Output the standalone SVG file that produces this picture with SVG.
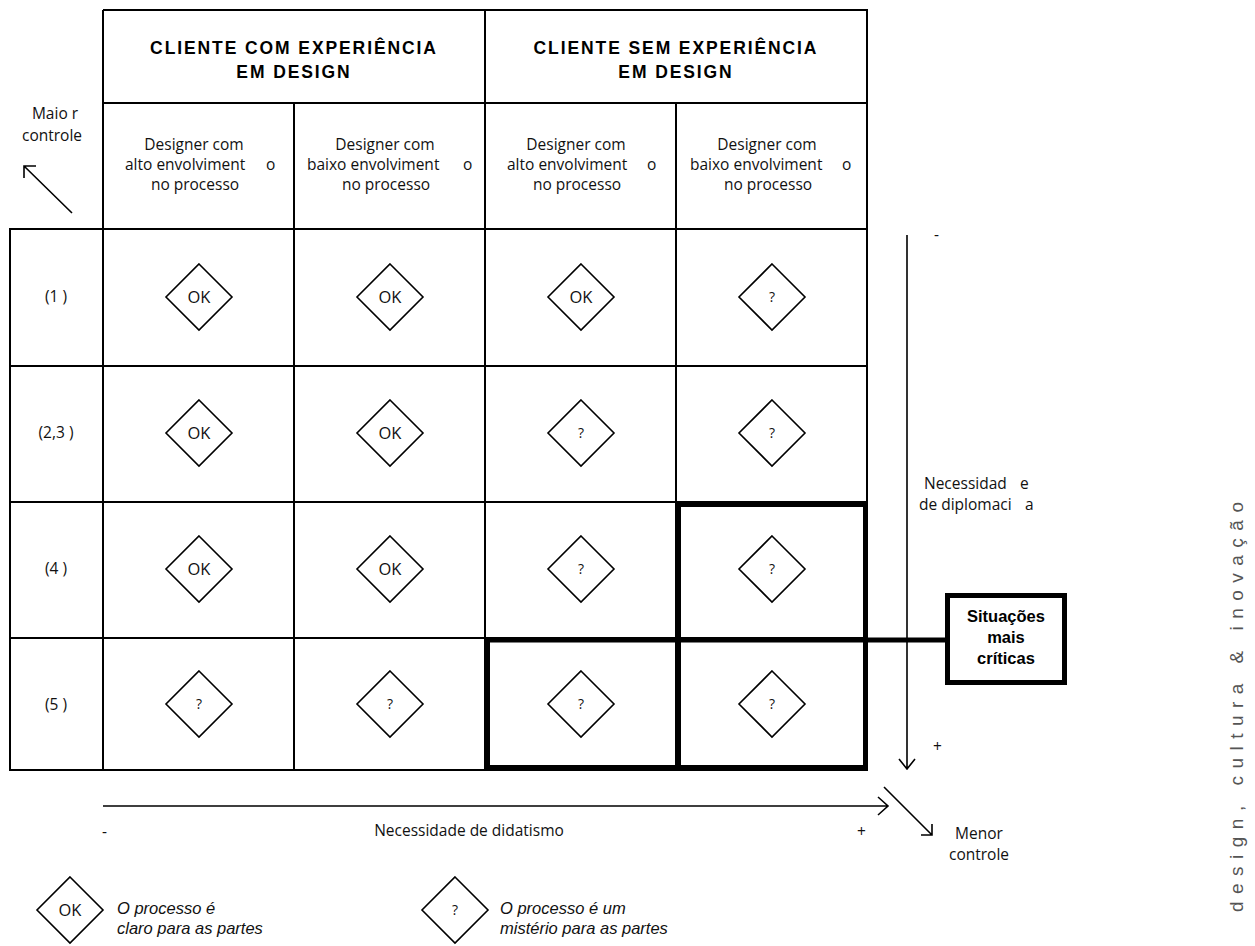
<svg xmlns="http://www.w3.org/2000/svg" width="1255" height="946" viewBox="0 0 1255 946">
<style>
.bg{fill:#fff}
.grid{fill:none;stroke:#000;stroke-width:2}
.thick{fill:none;stroke:#000;stroke-width:5}
.dia{fill:#fff;stroke:#000;stroke-width:1.6}
.hdr{font-family:"Liberation Sans",Arial,sans-serif;font-weight:bold;font-size:17.5px;letter-spacing:1.9px;text-anchor:middle;fill:#000}
.t{font-family:"Open Sans","Noto Sans",sans-serif;font-size:15.5px;fill:#111}
.c{text-anchor:middle}
.ok{font-family:"Open Sans","Noto Sans",sans-serif;font-size:16.5px;text-anchor:middle;fill:#111}
.q{font-family:"Open Sans","Noto Sans",sans-serif;font-size:14px;text-anchor:middle;fill:#111}
.bold{font-family:"Liberation Sans",Arial,sans-serif;font-weight:bold;font-size:16.5px;text-anchor:middle;fill:#000}
.it{font-family:"Liberation Sans",Arial,sans-serif;font-style:italic;font-size:16.5px;fill:#111}
.arr{fill:none;stroke:#000;stroke-width:1.6}
.vert{font-family:"Liberation Sans",Arial,sans-serif;font-size:19px;fill:#555}
</style>
<defs>
<polygon id="d" points="0,-33 33,0 0,33 -33,0"/>
</defs>
<rect class="bg" x="0" y="0" width="1255" height="946"/>

<g id="table-grid">
<path class="grid" d="M103,10 H867 V770 H10 V229 H867 M103,10 V770 M103,103 H867 M485,10 V770 M294,103 V770 M676,103 V770 M10,366 H867 M10,502 H867 M10,638 H867"/>
</g>

<g id="header-com">
<text class="hdr" x="294" y="54">CLIENTE COM EXPERIÊNCIA</text>
<text class="hdr" x="294" y="78">EM DESIGN</text>
</g>
<g id="header-sem">
<text class="hdr" x="676" y="54">CLIENTE SEM EXPERIÊNCIA</text>
<text class="hdr" x="676" y="78">EM DESIGN</text>
</g>

<g id="sub-1">
<text class="t c" x="194" y="150">Designer com</text>
<text class="t" x="125" y="170">alto envolviment<tspan x="262"> o</tspan></text>
<text class="t c" x="195" y="190">no processo</text>
</g>
<g id="sub-2">
<text class="t c" x="385" y="150">Designer com</text>
<text class="t" x="307" y="170">baixo envolviment<tspan x="459"> o</tspan></text>
<text class="t c" x="386" y="190">no processo</text>
</g>
<g id="sub-3">
<text class="t c" x="576" y="150">Designer com</text>
<text class="t" x="507" y="170">alto envolviment<tspan x="643"> o</tspan></text>
<text class="t c" x="577" y="190">no processo</text>
</g>
<g id="sub-4">
<text class="t c" x="767" y="150">Designer com</text>
<text class="t" x="690" y="170">baixo envolviment<tspan x="838"> o</tspan></text>
<text class="t c" x="768" y="190">no processo</text>
</g>

<g id="row-labels">
<text class="t c" x="56" y="302">(1 )</text>
<text class="t c" x="56" y="438">(2,3 )</text>
<text class="t c" x="56" y="574">(4 )</text>
<text class="t c" x="56" y="710">(5 )</text>
</g>

<g id="cells">
<g id="r1c1"><use href="#d" class="dia" x="199" y="297"/><text class="ok" x="199" y="303">OK</text></g>
<g id="r1c2"><use href="#d" class="dia" x="390" y="297"/><text class="ok" x="390" y="303">OK</text></g>
<g id="r1c3"><use href="#d" class="dia" x="581" y="297"/><text class="ok" x="581" y="303">OK</text></g>
<g id="r1c4"><use href="#d" class="dia" x="772" y="297"/><text class="q" x="772" y="302">?</text></g>
<g id="r2c1"><use href="#d" class="dia" x="199" y="433"/><text class="ok" x="199" y="439">OK</text></g>
<g id="r2c2"><use href="#d" class="dia" x="390" y="433"/><text class="ok" x="390" y="439">OK</text></g>
<g id="r2c3"><use href="#d" class="dia" x="581" y="433"/><text class="q" x="581" y="438">?</text></g>
<g id="r2c4"><use href="#d" class="dia" x="772" y="433"/><text class="q" x="772" y="438">?</text></g>
<g id="r3c1"><use href="#d" class="dia" x="199" y="569"/><text class="ok" x="199" y="575">OK</text></g>
<g id="r3c2"><use href="#d" class="dia" x="390" y="569"/><text class="ok" x="390" y="575">OK</text></g>
<g id="r3c3"><use href="#d" class="dia" x="581" y="569"/><text class="q" x="581" y="574">?</text></g>
<g id="r3c4"><use href="#d" class="dia" x="772" y="569"/><text class="q" x="772" y="574">?</text></g>
<g id="r4c1"><use href="#d" class="dia" x="199" y="704"/><text class="q" x="199" y="709">?</text></g>
<g id="r4c2"><use href="#d" class="dia" x="390" y="704"/><text class="q" x="390" y="709">?</text></g>
<g id="r4c3"><use href="#d" class="dia" x="581" y="704"/><text class="q" x="581" y="709">?</text></g>
<g id="r4c4"><use href="#d" class="dia" x="772" y="704"/><text class="q" x="772" y="709">?</text></g>
</g>

<g id="critical-outline">
<rect class="thick" x="678.5" y="504.5" width="187" height="135"/>
<path class="thick" d="M487.5,640 H865.5 V767.5 H487.5 Z M678.5,640 V767.5"/>
</g>

<g id="situacoes">
<rect class="thick" x="947.5" y="595.5" width="117" height="87"/>
<text class="bold" x="1006" y="622">Situações</text>
<text class="bold" x="1006" y="643">mais</text>
<text class="bold" x="1006" y="664">críticas</text>
</g>

<g id="connectors">
<path class="thick" d="M865,640 H947"/>
<path class="arr" d="M907,235 V769 M899,759 L907,769 L915,759"/>
<path class="arr" d="M103,806 H888 M878,797 L888,806 L878,815"/>
<path class="arr" d="M72,213 L24,166 M36,166 H24 V178"/>
<path class="arr" d="M884,787 L932,835 M921,835 H932 V824"/>
</g>

<g id="axis-labels">
<text class="t c" x="55" y="119">Maio r</text>
<text class="t c" x="52" y="141">controle</text>
<text class="t" x="934" y="240">-</text>
<text class="t" x="933" y="752">+</text>
<text class="t" x="924" y="489">Necessidad<tspan x="1016"> e</tspan></text>
<text class="t" x="919" y="510">de diplomaci<tspan x="1021"> a</tspan></text>
<text class="t" x="102" y="837">-</text>
<text class="t c" x="469" y="836">Necessidade de didatismo</text>
<text class="t" x="857" y="837">+</text>
<text class="t c" x="979" y="839">Menor</text>
<text class="t c" x="979" y="860">controle</text>
</g>

<g id="legend-ok">
<use href="#d" class="dia" x="70" y="910"/>
<text class="ok" x="70" y="916">OK</text>
<text class="it" x="117" y="914">O processo é</text>
<text class="it" x="117" y="934">claro para as partes</text>
</g>
<g id="legend-q">
<use href="#d" class="dia" x="455" y="910"/>
<text class="q" x="455" y="915">?</text>
<text class="it" x="500" y="914">O processo é um</text>
<text class="it" x="500" y="934">mistério para as partes</text>
</g>

<text class="vert" transform="translate(1243,912) rotate(-90)" textLength="410" lengthAdjust="spacing">design, cultura &amp; inovação</text>
</svg>
